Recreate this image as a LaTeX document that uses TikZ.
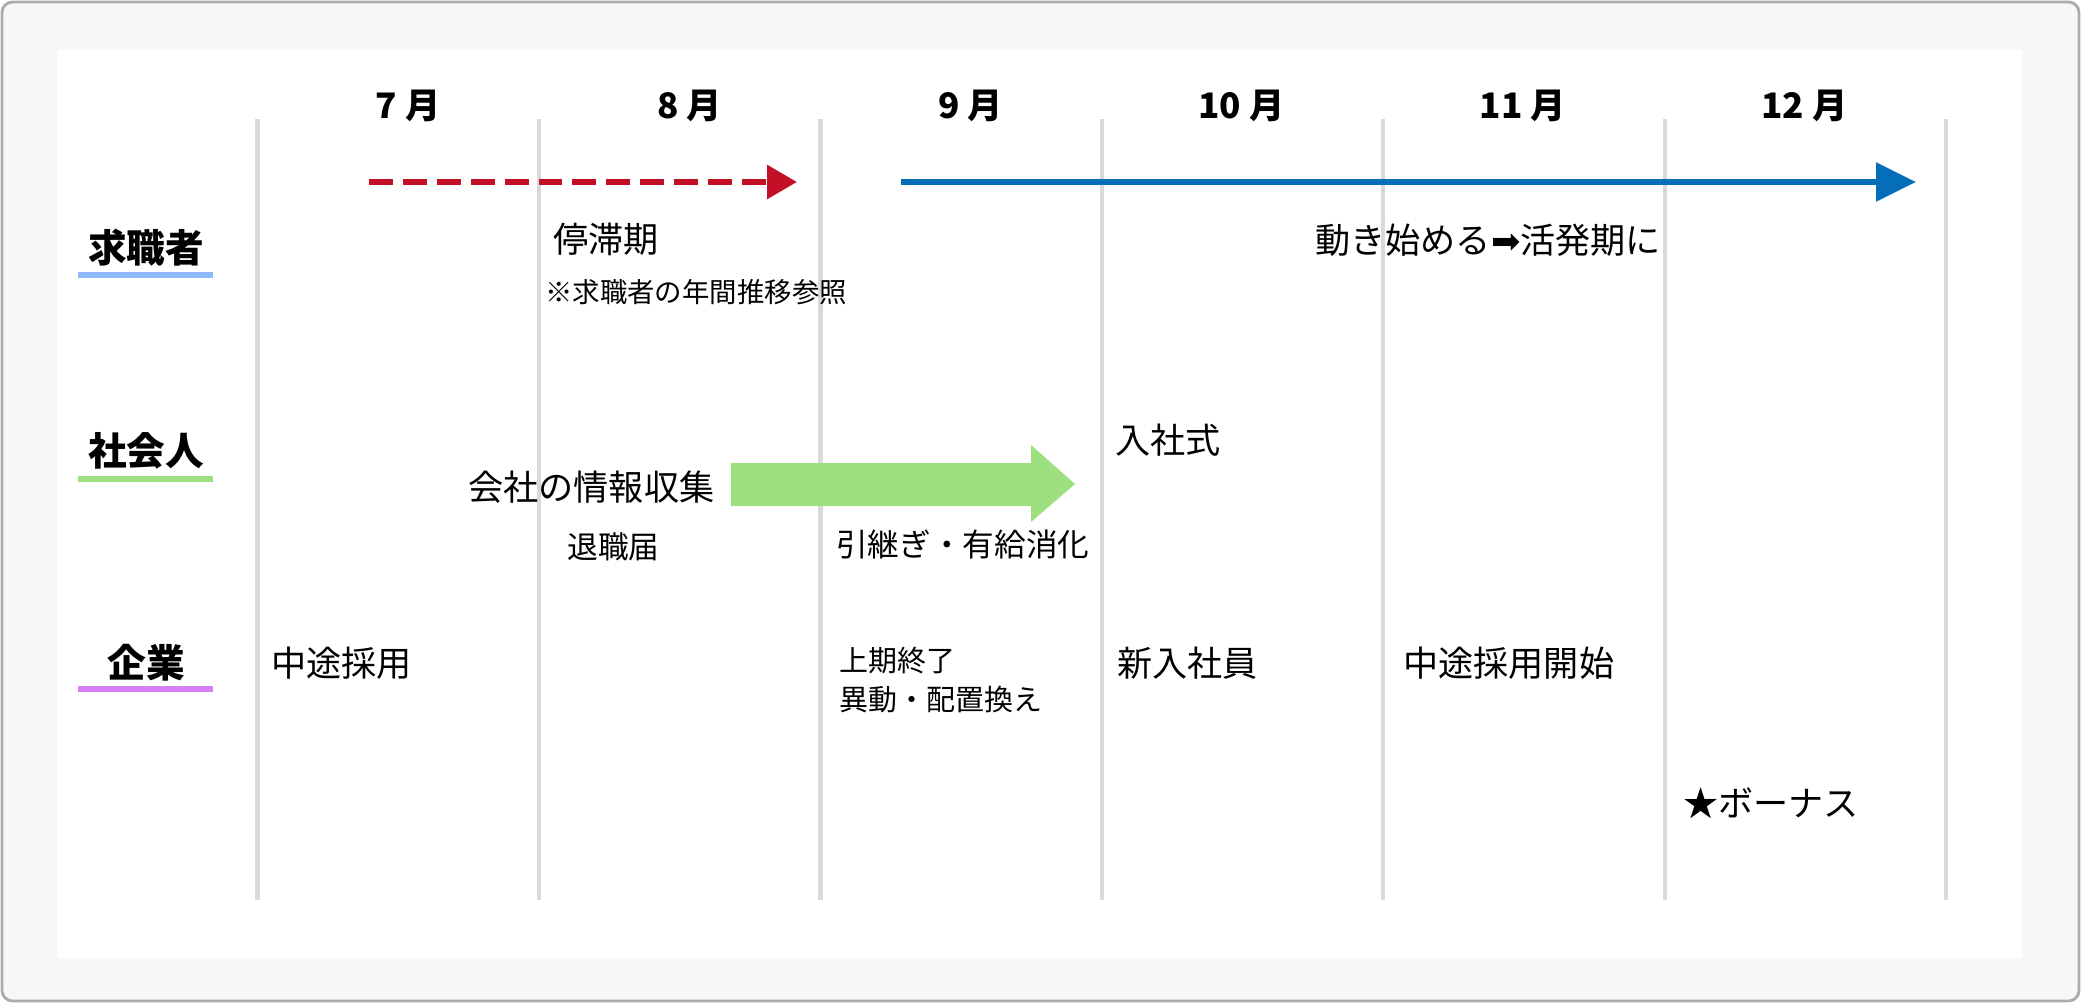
\documentclass[tikz,border=0pt]{standalone}
\usepackage{fontspec}
\usepackage{tikz}
\usetikzlibrary{arrows.meta}
\setmainfont{Noto Sans CJK JP}
\newfontfamily\symfont{DejaVu Sans}
\definecolor{StagRed}{RGB}{196,16,38}
\definecolor{ActBlue}{RGB}{5,110,184}
\definecolor{LineGray}{RGB}{217,217,217}
\definecolor{SeekBlue}{RGB}{140,186,248}
\definecolor{WorkGreen}{RGB}{158,224,128}
\definecolor{FirmViolet}{RGB}{214,128,245}

\begin{document}
\begin{tikzpicture}[x=0.02cm, y=-0.02cm,
	txt/.style={anchor=west, inner sep=0pt, font=\fontsize{20pt}{24pt}\selectfont},
	rowlab/.style={inner sep=0pt, font=\bfseries\fontsize{22pt}{26pt}\selectfont},
	monlab/.style={anchor=east, inner sep=0pt, font=\bfseries\fontsize{20pt}{24pt}\selectfont},
	uline/.style={line width=3.4pt}]
	\useasboundingbox (0,0) rectangle (2081,1003);
	\fill[gray!6, draw=gray!65, line width=1.6pt, rounded corners=6pt] (2,2) rectangle (2079,1001);
	\fill[white] (57,50) rectangle (2022,958);
	\foreach \i in {0,...,6}
	\draw[LineGray, line width=2.4pt] ({257.6+281.4*\i},119) -- ({257.6+281.4*\i},900);
	\foreach \m [count=\i from 0] in {7,...,12}
	\node[monlab] (m\m) at ({257.6+281.4*\i+183},106) {\m{} 月};
	\node[rowlab] (seeker) at (146,248) {求職者};
	\node[rowlab] (worker) at (146,451) {社会人};
	\node[rowlab] (firm) at (146,663) {企業};
	\draw[uline, SeekBlue] (78,275) -- (213,275);
	\draw[uline, WorkGreen] (78,479) -- (213,479);
	\draw[uline, FirmViolet] (78,689) -- (213,689);
	\coordinate (stag-a) at (369,182);
	\coordinate (stag-b) at (797,182);
	\coordinate (act-a) at (901,182);
	\coordinate (act-b) at (1916,182);
	\draw[StagRed, line width=3.4pt, dash pattern=on 13.6pt off 5.7pt, -{Triangle[length=17pt,width=18.7pt]}] (stag-a) -- (stag-b);
	\draw[ActBlue, line width=3.4pt, -{Triangle[length=22.7pt,width=21.5pt]}] (act-a) -- (act-b);
	\fill[WorkGreen] (731,463) -- (1031,463) -- (1031,445) -- (1075,484) -- (1031,522) -- (1031,506) -- (731,506) -- cycle;
	\node[txt] (stag) at (553,239) {停滞期};
	\node[txt, font=\fontsize{15.6pt}{19pt}\selectfont] (note) at (545,292) {※求職者の年間推移参照};
	\node[txt] (active) at (1315,240) {動き始める{\symfont ➡}活発期に};
	\node[txt] (info) at (468,487) {会社の情報収集};
	\node[txt, font=\fontsize{17.5pt}{21pt}\selectfont] (resign) at (567,547) {退職届};
	\node[txt, font=\fontsize{18pt}{22pt}\selectfont] (handover) at (836,544) {引継ぎ・有給消化};
	\node[txt] (entry) at (1115,440) {入社式};
	\node[txt] (midhire) at (271,663) {中途採用};
	\node[txt, align=left, font=\fontsize{16.5pt}{22.7pt}\selectfont] (term) at (839,680) {上期終了\\異動・配置換え};
	\node[txt] (newbie) at (1117,663) {新入社員};
	\node[txt] (hirestart) at (1403,663) {中途採用開始};
	\node[txt] (bonus) at (1683,803) {★ボーナス};
\end{tikzpicture}
\end{document}
